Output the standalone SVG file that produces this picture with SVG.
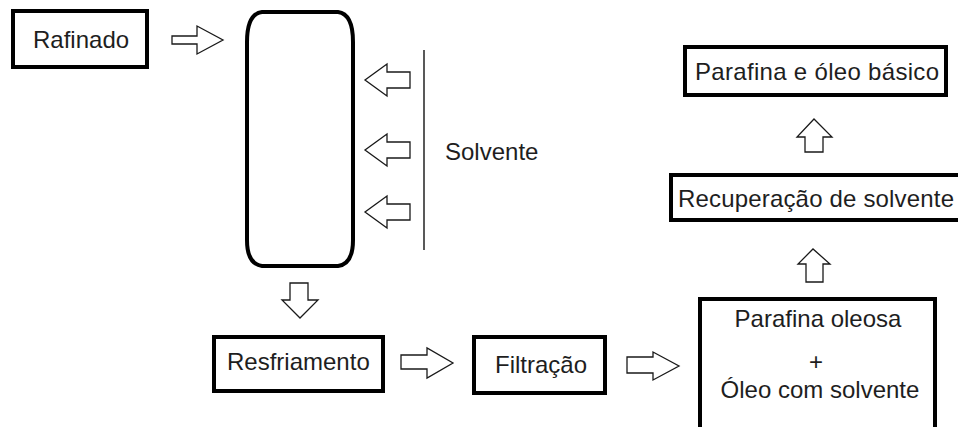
<svg xmlns="http://www.w3.org/2000/svg" width="958" height="427" viewBox="0 0 958 427">
<style>
.box{fill:#fff;stroke:#000;stroke-width:4}
.arr{fill:#fff;stroke:#1a1a1a;stroke-width:1.3;stroke-linejoin:miter}
.t{font-family:"Liberation Sans",Arial,sans-serif;font-size:24px;fill:#1e1e1e}
.m{text-anchor:middle}
</style>
<rect width="958" height="427" fill="#fff"/>
<g id="rafinado"><rect class="box" x="13" y="11" width="134" height="56"/><text class="t" x="33" y="48">Rafinado</text></g>
<g id="tanque"><path class="box" d="M262,12 H338 Q353,14 353,42 V240 Q353,264 338,266 H262 Q247,264 247,240 V42 Q247,14 262,12 Z"/></g>
<g id="solvente"><line x1="424" y1="50" x2="424" y2="250" stroke="#222" stroke-width="1.5"/><text class="t" x="445" y="160">Solvente</text></g>
<g id="resfriamento"><rect class="box" x="214" y="337" width="169" height="54"/><text class="t" x="227" y="370">Resfriamento</text></g>
<g id="filtracao"><rect class="box" x="474" y="337" width="131" height="56"/><text class="t" x="495" y="373">Filtração</text></g>
<g id="mistura"><rect class="box" x="700" y="299" width="235" height="140"/><text class="t m" x="818" y="327">Parafina oleosa</text><text class="t m" x="816" y="370">+</text><text class="t m" x="820" y="398">Óleo com solvente</text></g>
<g id="recuperacao"><rect class="box" x="671" y="175" width="300" height="45"/><text class="t" x="678" y="207" textLength="276">Recuperação de solvente</text></g>
<g id="produto"><rect class="box" x="685" y="47" width="261" height="48"/><text class="t" x="695" y="80" textLength="244">Parafina e óleo básico</text></g>
<g id="connectors">
<path class="arr" d="M172,36 H197 V26 L223,40 L197,54 V44 H172 Z"/>
<path class="arr" d="M410,72 H387 V64 L365,80 L387,96 V88 H410 Z"/>
<path class="arr" d="M410,142 H387 V134 L365,150 L387,166 V158 H410 Z"/>
<path class="arr" d="M410,204 H387 V196 L365,212 L387,228 V220 H410 Z"/>
<path class="arr" d="M290,283 H308 V300 H318 L300,318 L282,300 H290 Z"/>
<path class="arr" d="M401,355 H427 V348 L453,363 L427,378 V369 H401 Z"/>
<path class="arr" d="M627,357 H653 V352 L679,366 L653,380 V373 H627 Z"/>
<path class="arr" d="M806,282 V264 H798 L813,249 L830,264 H823 V282 Z"/>
<path class="arr" d="M805,152 V137 H797 L814,119 L832,137 H823 V152 Z"/>
</g>
</svg>
